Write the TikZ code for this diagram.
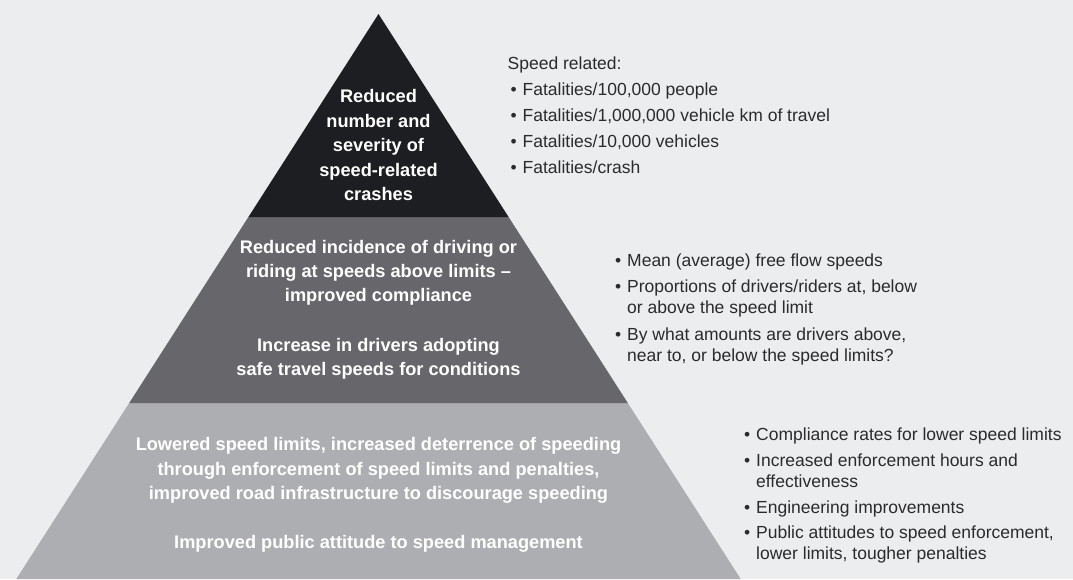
\documentclass[tikz,border=0pt]{standalone}
\usepackage{fontspec}
\setmainfont{Liberation Sans}
\definecolor{bg}{HTML}{ECEDEF}
\definecolor{topband}{HTML}{1D1E21}
\definecolor{midband}{HTML}{67666B}
\definecolor{lowband}{HTML}{ADAEB1}
\definecolor{ink}{HTML}{2B2B2D}
\newcommand{\bulletmark}{\makebox[12pt][l]{\textbullet}}
\newcommand{\bulletindent}{\hspace*{12pt}}
\tikzset{
  bandtext/.style={text=white, font=\bfseries\fontsize{18.2}{24.4}\selectfont,
    align=center, inner sep=0pt, anchor=north},
  notetext/.style={text=ink, font=\fontsize{17.5}{21}\selectfont,
    align=left, inner sep=0pt, anchor=north west}
}
\begin{document}
\begin{tikzpicture}[x=1pt,y=-1pt]
        \useasboundingbox (0,0) rectangle (1073,579);
        \fill[bg] (0,0) rectangle (1073,579);
        % pyramid
        \coordinate (apex) at (378.5,14);
        \coordinate (tl) at (248.4,217);
        \coordinate (tr) at (508.6,217);
        \coordinate (ml) at (129.2,403);
        \coordinate (mr) at (627.8,403);
        \coordinate (bl) at (16.3,579);
        \coordinate (br) at (740.7,579);
        \fill[lowband] (bl)--(ml)--(mr)--(br)--cycle;
        \fill[midband] (ml)--(tl)--(tr)--(mr)--cycle;
        \fill[topband] (tl)--(apex)--(tr)--cycle;
        % band texts
        \node[bandtext] (outcome) at (378.5,85.6) {\strut Reduced\\number and\\severity of\\speed-related\\crashes};
        \node[bandtext] (compliance) at (378.5,235.9) {\strut Reduced incidence of driving or\\riding at speeds above limits –\\improved compliance};
        \node[bandtext] (adoption) at (378.5,333.9) {\strut Increase in drivers adopting\\safe travel speeds for conditions};
        \node[bandtext] (measures) at (378.5,433.6) {\strut Lowered speed limits, increased deterrence of speeding\\through enforcement of speed limits and penalties,\\improved road infrastructure to discourage speeding};
        \node[bandtext] (attitude) at (378.5,531.2) {\strut Improved public attitude to speed management};
        % indicators
        \node[notetext] (fatalnote) at (507.5,54.3) {\strut Speed related:\\[5pt]
          \hspace*{3pt}\bulletmark Fatalities/100,000 people\\[5pt]
          \hspace*{3pt}\bulletmark Fatalities/1,000,000 vehicle km of travel\\[5pt]
          \hspace*{3pt}\bulletmark Fatalities/10,000 vehicles\\[5pt]
          \hspace*{3pt}\bulletmark Fatalities/crash};
        \node[notetext] (speednote) at (615,251.3) {\strut\bulletmark Mean (average) free flow speeds\\[5.5pt]
          \bulletmark Proportions of drivers/riders at, below\\
          \bulletindent or above the speed limit\\[5.5pt]
          \bulletmark By what amounts are drivers above,\\
          \bulletindent near to, or below the speed limits?};
        \node[notetext] (enforcenote) at (744,426) {\strut\bulletmark Compliance rates for lower speed limits\\[4.5pt]
          \bulletmark Increased enforcement hours and\\
          \bulletindent effectiveness\\[5pt]
          \bulletmark Engineering improvements\\[4.5pt]
          \bulletmark Public attitudes to speed enforcement,\\
          \bulletindent lower limits, tougher penalties};
\end{tikzpicture}
\end{document}
